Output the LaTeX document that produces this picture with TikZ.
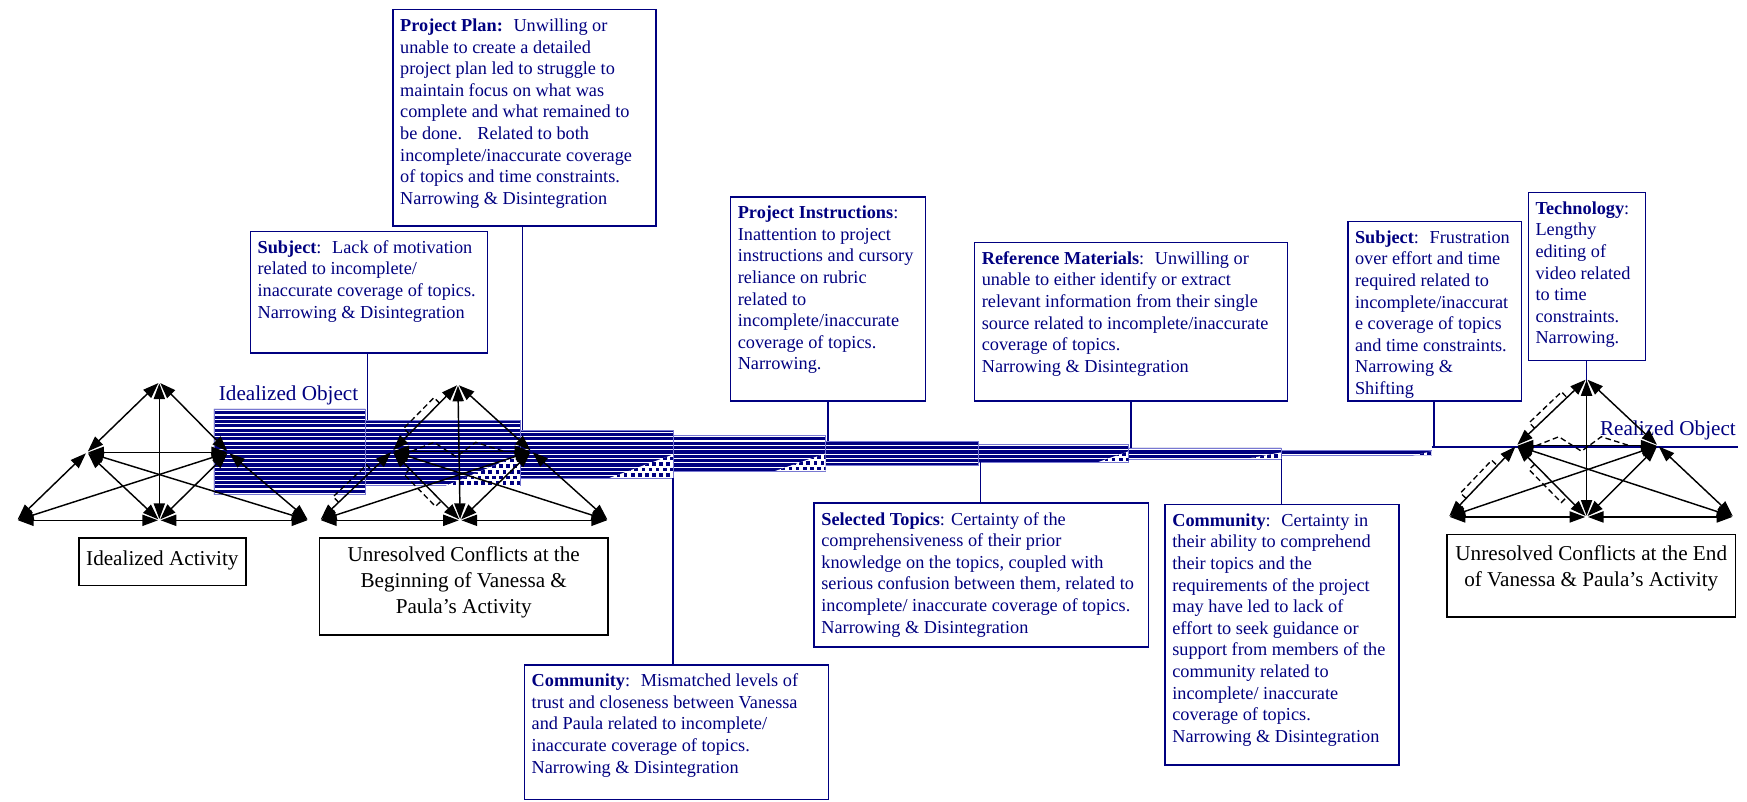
\documentclass[tikz,border=0pt]{standalone}
\usepackage{fontspec}
\setmainfont{Liberation Serif}
\usetikzlibrary{arrows.meta,calc}
\definecolor{navy}{RGB}{0,0,128}
\definecolor{bandedge}{RGB}{120,120,210}
\newcommand\boxfont{\fontsize{16.4}{19.4}\selectfont}
\newcommand\labfont{\fontsize{19}{23.5}\selectfont}

% the twelve double-headed links of one activity system
\newcommand\actsys[1]{%
  \draw[arr] (#1a) -- (#1l);  \draw[arr] (#1a) -- (#1r);  \draw[arr] (#1a) -- (#1bm);
  \draw[arr] (#1l) -- (#1r);
  \draw[arr] (#1l) -- (#1bl); \draw[arr] (#1l) -- (#1bm); \draw[arr] (#1l) -- (#1br);
  \draw[arr] (#1r) -- (#1bl); \draw[arr] (#1r) -- (#1bm); \draw[arr] (#1r) -- (#1br);
  \draw[arr] (#1bl) -- (#1bm); \draw[arr] (#1bm) -- (#1br);}

% dashed conflict mark beside the link from #1 to #2 (#3 = side, +90 or -90)
\newcommand\zap[3]{%
  \draw[zapline] ($(#1)!0.26!(#2)$) -- ($(#1)!0.26!(#2)!7pt!#3:(#2)$)
     -- ($(#1)!0.72!(#2)!7pt!#3:(#2)$) -- ($(#1)!0.72!(#2)$);}

% zigzag conflict mark across a horizontal link
\newcommand\zigzag[2]{%
  \draw[zapline] ($(#1)!0.14!(#2)$) -- ($(#1)!0.3!(#2)!8pt!90:(#2)$)
     -- ($(#1)!0.46!(#2)!5pt!-90:(#2)$) -- ($(#1)!0.6!(#2)!8pt!90:(#2)$) -- ($(#1)!0.8!(#2)$);}

% checkered wedge in the lower right corner of a band: xl, ytop, xr, ybottom
\newcommand\checks[4]{%
  \begin{scope}
    \clip (#1,#4) -- (#3,#2) -- (#3,#4) -- cycle;
    \fill[white] (#1,#2) rectangle (#3,#4);
    \foreach \i in {0,...,12}{\foreach \j in {0,...,6}{
      \fill[navy] ({#1+\i*6.4+mod(\j,2)*3.2},{#4-4.2-\j*5}) rectangle +(3.3,3.3);}}
  \end{scope}}

\begin{document}
\begin{tikzpicture}[x=1pt,y=-1pt,
  nbox/.style={draw=navy, line width=1.4pt, fill=white, anchor=north west, inner sep=0pt},
  btxt/.style={anchor=north west, align=left, inner sep=0pt, text=navy, font=\boxfont},
  kbox/.style={draw=black, line width=1.4pt, fill=white, anchor=north west, inner sep=0pt},
  ktxt/.style={anchor=north, align=center, inner sep=0pt, font=\labfont},
  link/.style={draw=navy, line width=1.4pt},
  arr/.style={{Triangle[length=14pt,width=10pt]}-{Triangle[length=14pt,width=10pt]},
    line width=1.3pt, shorten <=1.2pt, shorten >=1.2pt},
  zapline/.style={line width=1.2pt, dash pattern=on 5pt off 3pt}]
\useasboundingbox (0,0) rectangle (1568,719);

% ---------- object bands, narrowing from left to right ----------
\begin{scope}
  \clip (192,367) rectangle (328,444) (328,377) rectangle (467,436)
        (467,386) rectangle (604,429) (604,391) rectangle (741,423)
        (741,396) rectangle (878,418) (878,399) rectangle (1013,415)
        (1013,402) rectangle (1150,412) (1150,404) rectangle (1285,409);
  \fill[navy] (190,360) rectangle (1290,450);
  \foreach \yy in {368.6,372.5,...,446}
    \draw[white, line width=1.1pt] (190,\yy) -- (1290,\yy);
\end{scope}
\foreach \xa/\ya/\xb/\yb in {192/367/328/444, 328/377/467/436, 467/386/604/429,
    604/391/741/423, 741/396/878/418, 878/399/1013/415, 1013/402/1150/412, 1150/404/1285/409}
  \draw[bandedge, line width=0.7pt] (\xa,\ya) rectangle (\xb,\yb);
\checks{400}{408}{467}{436}
\checks{547}{408}{604}{429}
\checks{695}{407}{741}{423}
\checks{985}{405}{1013}{415}
\checks{1118}{406}{1150}{412}
\checks{1268}{405}{1285}{409}

\coordinate (objend) at (1285,401);
\coordinate (objtip) at (1560,401);
\draw[navy, line width=2pt] (objend) -- (objtip);

\node[text=navy, font=\labfont, inner sep=0pt] (iobj) at (259,355) {Idealized Object};
\node[text=navy, font=\labfont, inner sep=0pt] (robj) at (1497,386) {Realized Object};

% ---------- factor boxes ----------
\node[nbox, minimum width=236pt, minimum height=194pt] (pp) at (352,8) {};
\node[btxt] (pptx) at ([shift={(7,6.5)}]pp.north west) {\strut\textbf{Project Plan:}~ Unwilling or\\
unable to create a detailed\\
project plan led to struggle to\\
maintain focus on what was\\
complete and what remained to\\
be done.~~ Related to both\\
incomplete/inaccurate coverage\\
of topics and time constraints.\\
Narrowing \& Disintegration};

\node[nbox, minimum width=213pt, minimum height=109pt] (sl) at (224,207) {};
\node[btxt] (sltx) at ([shift={(7,6.5)}]sl.north west) {\strut\textbf{Subject}:~ Lack of motivation\\
related to incomplete/\\
inaccurate coverage of topics.\\
Narrowing \& Disintegration};

\node[nbox, minimum width=175pt, minimum height=183pt] (pi) at (655,176) {};
\node[btxt] (pitx) at ([shift={(7,6.5)}]pi.north west) {\strut\textbf{Project Instructions}:\\
Inattention to project\\
instructions and cursory\\
reliance on rubric\\
related to\\
incomplete/inaccurate\\
coverage of topics.\\
Narrowing.};

\node[nbox, minimum width=281pt, minimum height=142pt] (rm) at (874,217) {};
\node[btxt] (rmtx) at ([shift={(7,6.5)}]rm.north west) {\strut\textbf{Reference Materials}:~ Unwilling or\\
unable to either identify or extract\\
relevant information from their single\\
source related to incomplete/inaccurate\\
coverage of topics.\\
Narrowing \& Disintegration};

\node[nbox, minimum width=156pt, minimum height=161pt] (sr) at (1209,198) {};
\node[btxt] (srtx) at ([shift={(7,6.5)}]sr.north west) {\strut\textbf{Subject}:~ Frustration\\
over effort and time\\
required related to\\
incomplete/inaccurat\\
e coverage of topics\\
and time constraints.\\
Narrowing \&\\
Shifting};

\node[nbox, minimum width=105pt, minimum height=151pt] (te) at (1371,172) {};
\node[btxt] (tetx) at ([shift={(7,6.5)}]te.north west) {\strut\textbf{Technology}:\\
Lengthy\\
editing of\\
video related\\
to time\\
constraints.\\
Narrowing.};

\node[nbox, minimum width=273pt, minimum height=121pt] (cl) at (470,596) {};
\node[btxt] (cltx) at ([shift={(7,6.5)}]cl.north west) {\strut\textbf{Community}:~ Mismatched levels of\\
trust and closeness between Vanessa\\
and Paula related to incomplete/\\
inaccurate coverage of topics.\\
Narrowing \& Disintegration};

\node[nbox, minimum width=300pt, minimum height=129pt] (st) at (730,451) {};
\node[btxt] (sttx) at ([shift={(7,6.5)}]st.north west) {\strut\textbf{Selected Topics}: Certainty of the\\
comprehensiveness of their prior\\
knowledge on the topics, coupled with\\
serious confusion between them, related to\\
incomplete/ inaccurate coverage of topics.\\
Narrowing \& Disintegration};

\node[nbox, minimum width=210pt, minimum height=234pt] (cr) at (1045,452) {};
\node[btxt] (crtx) at ([shift={(7,6.5)}]cr.north west) {\strut\textbf{Community}:~ Certainty in\\
their ability to comprehend\\
their topics and the\\
requirements of the project\\
may have led to lack of\\
effort to seek guidance or\\
support from members of the\\
community related to\\
incomplete/ inaccurate\\
coverage of topics.\\
Narrowing \& Disintegration};

% ---------- connectors from boxes to the object ----------
\coordinate (hsl) at (330,377);
\coordinate (hpp) at (469,386);
\coordinate (hpi) at (743,396);
\coordinate (hrm) at (1015,402);
\coordinate (hsr) at (1287,401);
\coordinate (hte) at (1424,401);
\coordinate (hcl) at (604,429);
\coordinate (hst) at (880,415);
\coordinate (hcr) at (1150,412);
\draw[link] (sl.south -| hsl) -- (hsl);
\draw[link] (pp.south -| hpp) -- (hpp);
\draw[link] (pi.south -| hpi) -- (hpi);
\draw[link] (rm.south -| hrm) -- (hrm);
\draw[link] (sr.south -| hsr) -- (hsr);
\draw[link] (te.south -| hte) -- (hte);
\draw[link] (cl.north -| hcl) -- (hcl);
\draw[link] (st.north -| hst) -- (hst);
\draw[link] (cr.north -| hcr) -- (hcr);

% ---------- activity systems ----------
\coordinate (ua) at (143,343);  \coordinate (ul) at (78,406);   \coordinate (ur) at (205,406);
\coordinate (ubl) at (15,467);  \coordinate (ubm) at (143,467); \coordinate (ubr) at (277,467);
\coordinate (va) at (411,345);  \coordinate (vl) at (352,405);  \coordinate (vr) at (477,405);
\coordinate (vbl) at (287,467); \coordinate (vbm) at (413,467); \coordinate (vbr) at (546,467);
\coordinate (wa) at (1424,340); \coordinate (wl) at (1361,400); \coordinate (wr) at (1488,400);
\coordinate (wbl) at (1300,464); \coordinate (wbm) at (1424,464); \coordinate (wbr) at (1556,464);

\actsys{u}
\actsys{v}
\actsys{w}

\zap{vl}{va}{90}  \zap{vbl}{vl}{90}  \zap{vl}{vbm}{-90}  \zigzag{vl}{vr}
\zap{wl}{wa}{90}  \zap{wbl}{wl}{90}  \zap{wl}{wbm}{-90}  \zigzag{wl}{wr}

% ---------- activity captions ----------
\node[kbox, minimum width=150pt, minimum height=43pt] (iabox) at (70,482) {};
\node[ktxt] (iatx) at ([shift={(0,9)}]iabox.north) {\strut Idealized Activity};
\node[kbox, minimum width=259pt, minimum height=87pt] (bgbox) at (286,482) {};
\node[ktxt] (bgtx) at ([shift={(0,5)}]bgbox.north) {\strut Unresolved Conflicts at the\\Beginning of Vanessa \&\\Paula’s Activity};
\node[kbox, minimum width=259pt, minimum height=74pt] (enbox) at (1298,479) {};
\node[ktxt] (entx) at ([shift={(0,7.5)}]enbox.north) {\strut Unresolved Conflicts at the End\\of Vanessa \& Paula’s Activity};
\end{tikzpicture}
\end{document}
